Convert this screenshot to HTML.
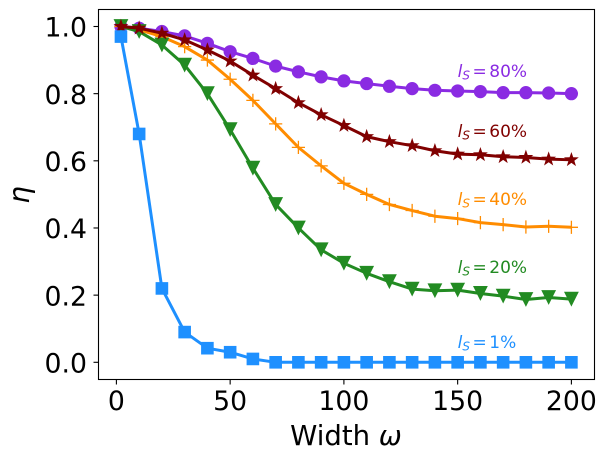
<!DOCTYPE html>
<html>
<head>
<meta charset="utf-8">
<style>
html,body{margin:0;padding:0;background:#fff;width:607px;height:460px;overflow:hidden}
svg{display:block}
text{font-family:"DejaVu Sans",sans-serif}
</style>
</head>
<body>
<svg id="chart" xmlns="http://www.w3.org/2000/svg" width="607" height="460" viewBox="0 0 607 460">
<rect x="0" y="0" width="607" height="460" fill="#fff"/>
<g id="marks"></g>
<g id="ticks"></g>
<rect x="98.5" y="9.5" width="496" height="370" fill="none" stroke="#000" stroke-width="1.1"/>
<text x="346" y="445" font-size="27.5" text-anchor="middle" fill="#000">Width <tspan font-style="italic">ω</tspan></text>
<text transform="translate(29,195) rotate(-90)" font-size="28" font-style="italic" text-anchor="middle" fill="#000">η</text>
</svg>
<script>
const widths = [2,10,20,30,40,50,60,70,80,90,100,110,120,130,140,150,160,170,180,190,200];
const ls80 = [1,.995,.985,.972,.95,.925,.905,.882,.865,.85,.838,.83,.822,.815,.81,.808,.806,.803,.803,.802,.8];
const ls40 = [1,.99,.97,.94,.9,.843,.78,.71,.64,.585,.533,.5,.47,.452,.435,.428,.416,.41,.403,.405,.402];
const ls20 = [1,.985,.945,.885,.8,.693,.578,.47,.4,.335,.295,.265,.24,.218,.213,.215,.205,.197,.187,.193,.188];
const ls60 = [1,.995,.98,.96,.93,.897,.855,.815,.773,.737,.705,.672,.657,.645,.63,.62,.618,.612,.61,.605,.603];
const ls1 = [.97,.68,.22,.09,.042,.03,.01,0,0,0,0,0,0,0,0,0,0,0,0,0,0];
const xTickValues = [0,50,100,150,200];
const yTickValues = [0,0.2,0.4,0.6,0.8,1];
const seriesNames = ['80','40','20','60','1'];
const seriesValues = [ls80, ls40, ls20, ls60, ls1];
const seriesColors = ['#8a2be2','#ff8c00','#228b22','#800000','#1e90ff'];
const seriesMarkers = ['circle','plus','triangle','star','square'];
const labelNames = ['80','60','40','20','1'];
const labelValues = [0.85,0.671,0.468,0.266,0.043];
const labelColors = ['#8a2be2','#800000','#ff8c00','#228b22','#1e90ff'];

const NS = 'http://www.w3.org/2000/svg';
const X = v => 116.4 + v * 2.275;
const Y = v => 362.3 - v * 335.8;
const marks = document.getElementById('marks');
const ticks = document.getElementById('ticks');

function make(tag, attrs, parent) {
  const el = document.createElementNS(NS, tag);
  for (const k in attrs) el.setAttribute(k, attrs[k]);
  parent.appendChild(el);
  return el;
}

function markerPoints(kind, cx, cy) {
  if (kind === 'triangle') {
    const r = 7.4;
    return [[cx - r, cy - r], [cx + r, cy - r], [cx, cy + r]].map(p => p.join(',')).join(' ');
  }
  const pts = [];
  for (let i = 0; i < 10; i++) {
    const r = i % 2 ? 3.1 : 7.8;
    const a = -Math.PI / 2 + i * Math.PI / 5;
    pts.push((cx + r * Math.cos(a)).toFixed(2) + ',' + (cy + r * Math.sin(a)).toFixed(2));
  }
  return pts.join(' ');
}

seriesValues.forEach((vals, s) => {
  const color = seriesColors[s];
  const g = make('g', {}, marks);
  
  
  const line = make('polyline', {
    points: vals.map((v, i) => X(widths[i]) + ',' + Y(v)).join(' '),
    fill: 'none', stroke: color, 'stroke-width': 3, 'stroke-linejoin': 'round'
  }, g);
  
  
  vals.forEach((v, i) => {
    const cx = X(widths[i]), cy = Y(v);
    let m;
    if (seriesMarkers[s] === 'circle') {
      m = make('circle', {cx: cx, cy: cy, r: 6.6, fill: color}, g);
    } else if (seriesMarkers[s] === 'square') {
      m = make('rect', {x: cx - 6.3, y: cy - 6.3, width: 12.6, height: 12.6, fill: color}, g);
    } else if (seriesMarkers[s] === 'plus') {
      m = make('path', {d: 'M' + (cx - 6.6) + ' ' + cy + 'H' + (cx + 6.6) + 'M' + cx + ' ' + (cy - 6.6) + 'V' + (cy + 6.6), stroke: color, 'stroke-width': 1.3, fill: 'none'}, g);
    } else {
      m = make('polygon', {points: markerPoints(seriesMarkers[s], cx, cy), fill: color}, g);
    }
    
    
  });
});

labelNames.forEach((name, i) => {
  const t = make('text', {x: X(150), y: Y(labelValues[i]), 'font-size': 17, fill: labelColors[i]}, marks);
  
  
  const l = make('tspan', {'font-style': 'italic'}, t);
  l.textContent = 'l';
  const sub = make('tspan', {'font-style': 'italic', 'font-size': 12, dy: 2.5}, t);
  sub.textContent = 'S';
  const eq = make('tspan', {dy: -2.5, dx: 2.5}, t);
  eq.textContent = '=';
  const val = make('tspan', {dx: 2.5}, t);
  val.textContent = name + '%';
});

xTickValues.forEach(v => {
  const l = make('line', {x1: X(v), x2: X(v), y1: 379.5, y2: 384.5, stroke: '#000', 'stroke-width': 1.1}, ticks);
  
  
  const t = make('text', {x: X(v), y: 410, 'font-size': 26.7, 'text-anchor': 'middle', fill: '#000'}, ticks);
  
  
  t.textContent = String(v);
});

yTickValues.forEach(v => {
  const l = make('line', {x1: 93.5, x2: 98.5, y1: Y(v), y2: Y(v), stroke: '#000', 'stroke-width': 1.1}, ticks);
  
  
  const t = make('text', {x: 87, y: Y(v) + 10.2, 'font-size': 26.7, 'text-anchor': 'end', fill: '#000'}, ticks);
  
  
  t.textContent = v.toFixed(1);
});
</script>
</body>
</html>
